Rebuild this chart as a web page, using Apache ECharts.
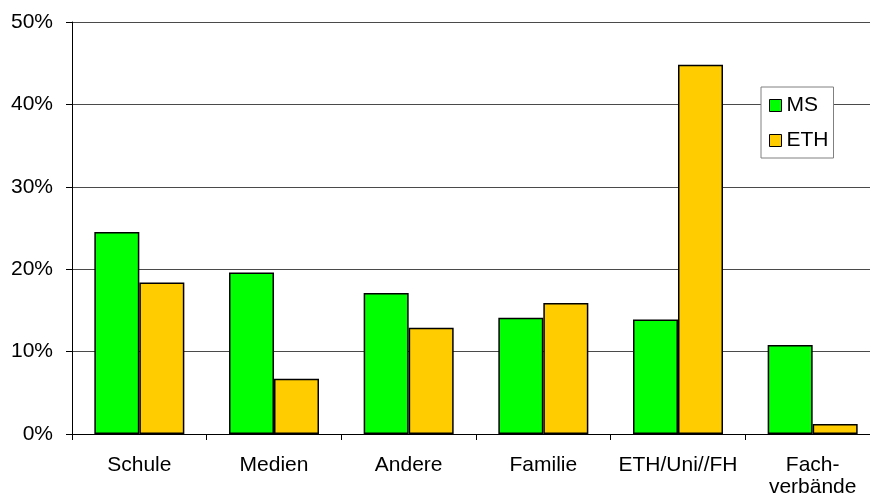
<!DOCTYPE html>
<html>
<head>
<meta charset="utf-8">
<script src="https://cdn.jsdelivr.net/npm/echarts@6/dist/echarts.min.js"></script>
<style>
html,body{margin:0;padding:0;background:#fff;overflow:hidden;width:870px;height:503px;}
#chart{width:880px;height:503px;}
</style>
</head>
<body>
<div id="chart"></div>
<script>
const categories = ["Schule", "Medien", "Andere", "Familie", "ETH/Uni//FH", "Fach-\nverbände"];
const msValues = [24.5, 19.6, 17.1, 14.1, 13.9, 10.8];
const ethValues = [18.4, 6.7, 12.9, 15.9, 44.8, 1.2];
const seriesNames = ["MS", "ETH"];

const chart = echarts.init(document.getElementById('chart'));
const font = "'Liberation Sans', Arial, sans-serif";
chart.setOption({
  animation: false,
  backgroundColor: '#ffffff',
  textStyle: { fontFamily: font },
  grid: { left: 72, top: 22, bottom: 69, right: 0, containLabel: false },
  legend: {
    orient: 'vertical',
    left: 761,
    top: 87,
    padding: [8, 5, 7, 8],
    itemGap: 14,
    itemWidth: 12,
    itemHeight: 12,
    backgroundColor: '#ffffff',
    borderColor: '#808080',
    borderWidth: 1,
    borderRadius: 0,
    icon: 'rect',
    textStyle: { fontFamily: font, fontSize: 21, color: '#000', lineHeight: 21 },
    itemStyle: { borderColor: '#000', borderWidth: 1 },
    data: seriesNames
  },
  xAxis: {
    type: 'category',
    data: categories,
    boundaryGap: true,
    axisLine: { lineStyle: { color: '#000', width: 1 } },
    axisTick: { show: true, length: 6, lineStyle: { color: '#000' } },
    axisLabel: { interval: 0, margin: 20, fontFamily: font, fontSize: 21, color: '#000', lineHeight: 22 }
  },
  yAxis: {
    type: 'value',
    min: 0, max: 50, interval: 10,
    axisLine: { show: true, lineStyle: { color: '#000', width: 1 } },
    axisTick: { show: true, length: 6, lineStyle: { color: '#000' } },
    axisLabel: { formatter: '{value}%', margin: 19, fontFamily: font, fontSize: 21, color: '#000' },
    splitLine: { show: true, lineStyle: { color: '#4a4a4a', width: 1 } }
  },
  series: [
    {
      name: seriesNames[0], type: 'bar', data: msValues, barWidth: 45, barGap: '0%',
      itemStyle: { color: '#00ff00', borderColor: '#000', borderWidth: 1.5 }
    },
    {
      name: seriesNames[1], type: 'bar', data: ethValues, barWidth: 45, barGap: '0%',
      itemStyle: { color: '#ffcc00', borderColor: '#000', borderWidth: 1.5 }
    }
  ]
});
</script>
</body>
</html>
